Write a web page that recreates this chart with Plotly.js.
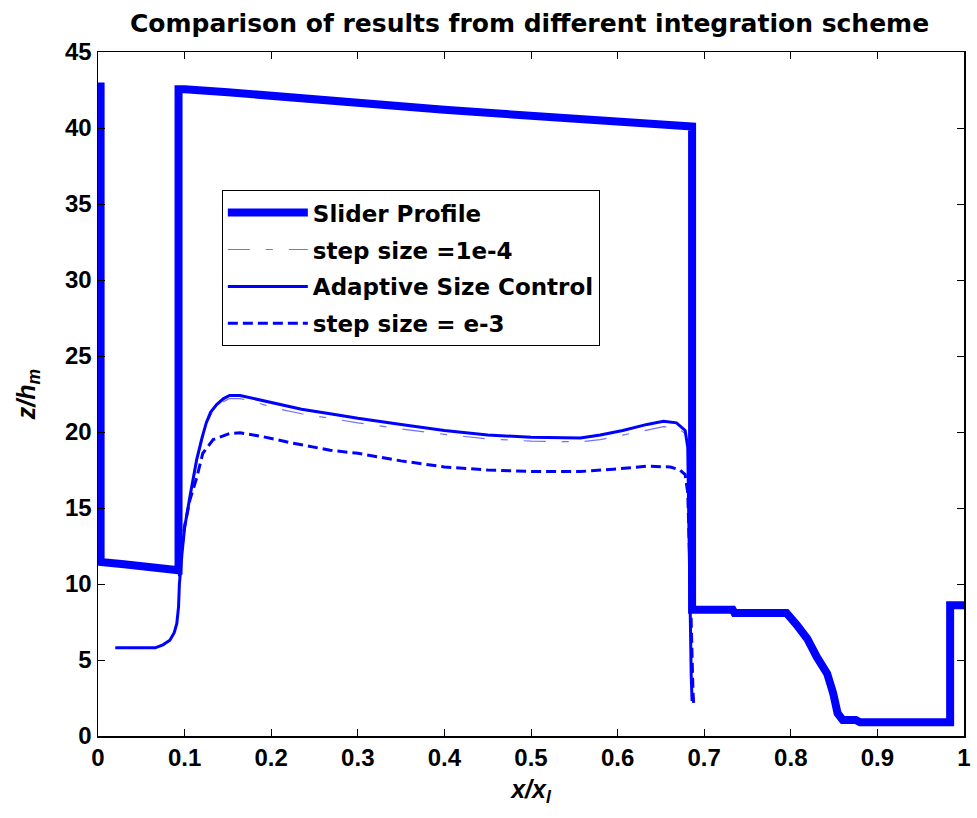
<!DOCTYPE html>
<html>
<head>
<meta charset="utf-8">
<script src="https://cdn.plot.ly/plotly-3.0.1.min.js"></script>
<style>html,body{margin:0;padding:0;background:#fff;}#chart{width:977px;height:818px;}</style>
</head>
<body>
<div id="chart"></div>
<script>
// Slider profile
const sliderX = [0.003,0.003,0.03,0.06,0.093,0.093,0.1,0.15,0.2,0.25,0.3,0.35,0.4,0.45,0.5,0.55,0.6,0.65,0.686,0.686,0.7,0.733,0.735,0.795,0.807,0.819,0.83,0.842,0.849,0.854,0.86,0.875,0.88,0.984,0.984,1.0];
const sliderY = [43.0,11.45,11.3,11.1,10.9,42.55,42.55,42.35,42.1,41.85,41.6,41.4,41.2,41.0,40.8,40.6,40.45,40.25,40.1,8.3,8.3,8.3,8.1,8.1,7.3,6.4,5.2,4.1,2.8,1.5,1.05,1.05,0.9,0.9,8.6,8.6];

// step size = 1e-4
const fineX = [0.02,0.04,0.066,0.075,0.083,0.088,0.091,0.093,0.094,0.097,0.1,0.106,0.114,0.12,0.125,0.13,0.137,0.145,0.152,0.164,0.18,0.202,0.235,0.268,0.3,0.35,0.4,0.45,0.5,0.557,0.58,0.606,0.634,0.653,0.668,0.678,0.681,0.682,0.683,0.684,0.685,0.686];
const fineY = [5.8,5.8,5.8,6.0,6.3,6.8,7.4,8.5,10.0,12.0,13.6,15.5,18.0,19.4,20.4,21.1,21.6,22.0,22.2,22.2,22.0,21.6,21.2,20.9,20.6,20.2,19.85,19.55,19.4,19.35,19.5,19.8,20.15,20.35,20.3,19.9,18.8,15,10,6,4,2.6];

// Adaptive Size Control
const adaptX = [0.02,0.04,0.066,0.075,0.083,0.088,0.091,0.093,0.094,0.097,0.1,0.106,0.114,0.12,0.125,0.13,0.137,0.145,0.152,0.164,0.18,0.202,0.235,0.268,0.3,0.35,0.4,0.45,0.5,0.557,0.58,0.606,0.634,0.653,0.668,0.678,0.681,0.682,0.683,0.684,0.685,0.686];
const adaptY = [5.8,5.8,5.8,6.0,6.3,6.8,7.4,8.5,10.0,12.0,13.7,15.7,18.2,19.6,20.6,21.3,21.8,22.2,22.4,22.4,22.2,21.9,21.5,21.2,20.9,20.5,20.1,19.8,19.65,19.6,19.8,20.1,20.5,20.7,20.6,20.1,19.0,15,10,6,4,2.3];

// step size = e-3
const coarseX = [0.094,0.097,0.1,0.106,0.114,0.121,0.133,0.152,0.164,0.19,0.222,0.268,0.3,0.35,0.4,0.45,0.5,0.557,0.595,0.634,0.661,0.672,0.678,0.681,0.683,0.685,0.687,0.688];
const coarseY = [10.5,12.5,13.8,15.5,17.0,18.6,19.5,19.9,19.95,19.7,19.3,18.8,18.6,18.1,17.7,17.5,17.4,17.4,17.55,17.75,17.7,17.5,17.2,16,12,7,3,2.0];

const xTicks = [0,0.1,0.2,0.3,0.4,0.5,0.6,0.7,0.8,0.9,1];
const xTickText = ['0','0.1','0.2','0.3','0.4','0.5','0.6','0.7','0.8','0.9','1'];
const yTicks = [0,5,10,15,20,25,30,35,40,45];

const FONT = 'Liberation Sans, Arial, sans-serif';
const WIDEFONT = 'DejaVu Sans, Liberation Sans, sans-serif';

const traces = [
  {x: sliderX, y: sliderY, mode: 'lines', name: '<b>Slider Profile</b>', line: {color: '#0000ff', width: 8}, legendgroup: 'a'},
  {x: fineX, y: fineY, mode: 'lines', name: '<b>step size =1e-4</b>', line: {color: '#7070ff', width: 1.2, dash: '22px,16px,7px,16px'}, legendgroup: 'b'},
  {x: adaptX, y: adaptY, mode: 'lines', name: '<b>Adaptive Size Control</b>', line: {color: '#0000ff', width: 3}, legendgroup: 'c'},
  {x: coarseX, y: coarseY, mode: 'lines', name: '<b>step size = e-3</b>', line: {color: '#0000ff', width: 3, dash: '10px,5px'}, legendgroup: 'd'}
];

const axisCommon = {
  showline: true, linecolor: '#000', linewidth: 1.5, mirror: 'ticks',
  ticks: 'inside', ticklen: 7, tickcolor: '#000', tickwidth: 1,
  showgrid: false, zeroline: false,
  tickfont: {family: FONT, size: 24, color: '#000', weight: 'bold'}
};

const layout = {
  width: 977, height: 818,
  margin: {l: 98, r: 13, t: 52, b: 82},
  paper_bgcolor: '#fff', plot_bgcolor: '#fff',
  font: {family: FONT, color: '#000'},
  title: {text: '<b>Comparison of results from different integration scheme</b>', font: {family: WIDEFONT, size: 25, color: '#000'}, x: 0.542, xanchor: 'center', y: 0.972, yanchor: 'middle'},
  xaxis: Object.assign({}, axisCommon, {range: [0, 1], tickvals: xTicks, ticktext: xTickText,
    title: {text: '<b><i>x/x<sub>l</sub></i></b>', font: {family: FONT, size: 25, color: '#000'}, standoff: 10}}),
  yaxis: Object.assign({}, axisCommon, {range: [0, 45], tickvals: yTicks,
    title: {text: '<b><i>z/h<sub>m</sub></i></b>', font: {family: FONT, size: 25, color: '#000'}, standoff: 22}}),
  showlegend: true,
  legend: {x: 0.143, y: 0.798, xanchor: 'left', yanchor: 'top', bgcolor: '#fff', bordercolor: '#000', borderwidth: 1,
    font: {family: WIDEFONT, size: 23, color: '#000'}, itemwidth: 80, traceorder: 'grouped', tracegroupgap: 4}
};

Plotly.newPlot('chart', traces, layout, {displayModeBar: false, staticPlot: true});
</script>
</body>
</html>
